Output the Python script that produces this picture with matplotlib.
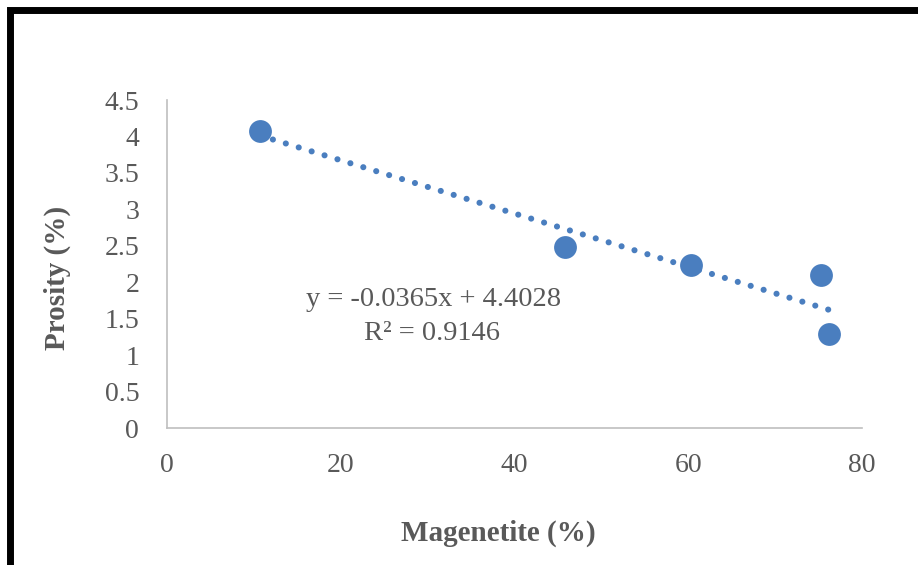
import numpy as np
import matplotlib.pyplot as plt
from matplotlib.patches import Rectangle

# ---- Datos ----
magnetite = np.array([10.7, 45.8, 60.3, 75.3, 76.2])   # Magenetite (%)
porosity = np.array([4.07, 2.48, 2.24, 2.10, 1.29])    # Prosity (%)
slope, intercept = -0.0365, 4.4028
r2 = 0.9146
x_ticks = [0, 20, 40, 60, 80]
y_ticks = [0, 0.5, 1, 1.5, 2, 2.5, 3, 3.5, 4, 4.5]

gray = '#595959'
blue = '#4A7EBF'
serif = ['Liberation Serif', 'DejaVu Serif']

fig = plt.figure(figsize=(9.18, 5.65), dpi=100)
ax = fig.add_axes([167/918, 137/565, 695/918, 328/565])

# ---- Trendline ----
x_line = np.linspace(magnetite.min(), magnetite.max(), 100)
ax.plot(x_line, slope * x_line + intercept, color=blue, lw=4.4,
        linestyle=(0, (0.01, 2.2)), dash_capstyle='round', zorder=2)

# ---- Puntos ----
ax.scatter(magnetite, porosity, s=270, color=blue, zorder=3, linewidths=0)

ax.text(30.7, 1.76, f"y = {slope}x + {intercept}", ha='center', va='center',
        fontsize=20.5, family=serif, color=gray)
ax.text(30.5, 1.30, f"R² = {r2}", ha='center', va='center',
        fontsize=20.5, family=serif, color=gray)

ax.set_xlim(0, 80)
ax.set_ylim(0, 4.5)
ax.set_xticks(x_ticks)
ax.set_xticklabels([str(t) for t in x_ticks])
ax.set_yticks(y_ticks)
ax.set_yticklabels([f"{t:g}" for t in y_ticks])
ax.tick_params(length=0, labelsize=20, labelcolor=gray)
ax.tick_params(axis='y', pad=20)
ax.tick_params(axis='x', pad=18)
for lab in ax.get_xticklabels() + ax.get_yticklabels():
    lab.set_family(serif)

for side in ['top', 'right']:
    ax.spines[side].set_visible(False)
for side in ['left', 'bottom']:
    ax.spines[side].set_color('#BFBFBF')
    ax.spines[side].set_linewidth(1.2)

fig.text(498/918, 1 - 533/565, "Magenetite (%)", ha='center', va='center',
         fontsize=21, fontweight='bold', family=serif, color=gray)
fig.text(57/918, 1 - 278/565, "Prosity (%)", ha='center', va='center', rotation=90,
         fontsize=21, fontweight='bold', family=serif, color=gray)

# ---- Marco ----
fig.patches.append(Rectangle((10/918, -0.05), 1.2, 1 - 9.5/565 + 0.05,
                             transform=fig.transFigure, fill=False,
                             edgecolor='black', lw=5))

fig.savefig('out.png', dpi=100)
